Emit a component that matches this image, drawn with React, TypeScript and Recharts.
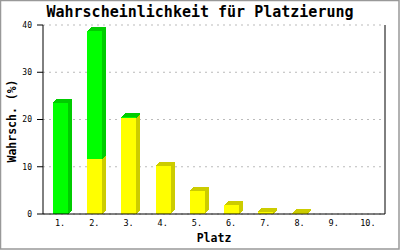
import { BarChart, Bar, XAxis, YAxis, CartesianGrid } from 'recharts'

const platz = ['1.', '2.', '3.', '4.', '5.', '6.', '7.', '8.', '9.', '10.']
const gelb = [0, 11.6, 20.3, 10.2, 4.9, 1.9, 0.5, 0.2, 0, 0]
const gruen = [23.5, 27.1, 0.15, 0, 0, 0, 0, 0, 0, 0]
const yTicks = [0, 10, 20, 30, 40]

const data = platz.map((p, i) => ({ platz: p, gelb: gelb[i], gruen: gruen[i] }))

const FONT = '"DejaVu Sans Mono", "Liberation Mono", monospace'
const DEPTH = 4

// front face + darker side and top, like an old 3d bar
function box3d(key: string, front: string, side: string) {
  return (props: any) => {
    const { x, y, width, height, payload } = props
    if (!payload || !(payload[key] > 0)) return <g />
    const d = DEPTH
    const sidePts = `${x + width},${y} ${x + width + d},${y - d} ${x + width + d},${y + height - d} ${x + width},${y + height}`
    const topPts = `${x},${y} ${x + d},${y - d} ${x + width + d},${y - d} ${x + width},${y}`
    return (
      <g shapeRendering="crispEdges">
        <polygon points={sidePts} fill={side} />
        <polygon points={topPts} fill={side} />
        <rect x={x} y={y} width={width} height={height} fill={front} />
      </g>
    )
  }
}

export default function App() {
  return (
    <div style={{ position: 'absolute', left: 0, top: 0, width: 400, height: 250, background: '#fff' }}>
      <BarChart
        width={400}
        height={250}
        data={data}
        margin={{ top: 25, right: 14, left: 0, bottom: 0 }}
        barSize={15}
      >
        <CartesianGrid vertical={false} stroke="#bbbbbb" strokeDasharray="2 4" yAxisId="left" />
        <XAxis
          dataKey="platz"
          height={36}
          tickLine={false}
          tickSize={0}
          tickMargin={6}
          axisLine={{ stroke: '#000' }}
          tick={{ fill: '#000', fontSize: 8.5, fontFamily: FONT }}
        />
        <YAxis
          yAxisId="left"
          width={43}
          domain={[0, 40]}
          ticks={yTicks}
          tickSize={6}
          tickMargin={5}
          axisLine={{ stroke: '#000' }}
          tickLine={{ stroke: '#000' }}
          tick={{ fill: '#000', fontSize: 8, fontFamily: FONT }}
        />
        <YAxis
          yAxisId="right"
          orientation="right"
          width={1}
          domain={[0, 40]}
          ticks={yTicks}
          tick={false}
          tickLine={false}
          axisLine={{ stroke: '#000' }}
        />
        <Bar
          yAxisId="left"
          dataKey="gelb"
          stackId="a"
          isAnimationActive={false}
          shape={box3d('gelb', '#ffff00', '#cccc00')}
        />
        <Bar
          yAxisId="left"
          dataKey="gruen"
          stackId="a"
          isAnimationActive={false}
          shape={box3d('gruen', '#00ff00', '#00cc00')}
        />
      </BarChart>
      <svg
        width={400}
        height={250}
        style={{ position: 'absolute', left: 0, top: 0, pointerEvents: 'none' }}
      >
        <rect x={0.5} y={0.5} width={398.5} height={248.5} fill="none" stroke="#999999" strokeWidth={1.5} />
        <text x={200} y={17} textAnchor="middle" fontFamily={FONT} fontWeight="bold" fontSize={15} fill="#000">
          Wahrscheinlichkeit für Platzierung
        </text>
        <text
          x={0}
          y={0}
          transform="translate(16,121) rotate(-90)"
          textAnchor="middle"
          fontFamily={FONT}
          fontWeight="bold"
          fontSize={11.5}
          fill="#000"
        >
          Wahrsch. (%)
        </text>
        <text x={214} y={242} textAnchor="middle" fontFamily={FONT} fontWeight="bold" fontSize={11.5} fill="#000">
          Platz
        </text>
      </svg>
    </div>
  )
}
